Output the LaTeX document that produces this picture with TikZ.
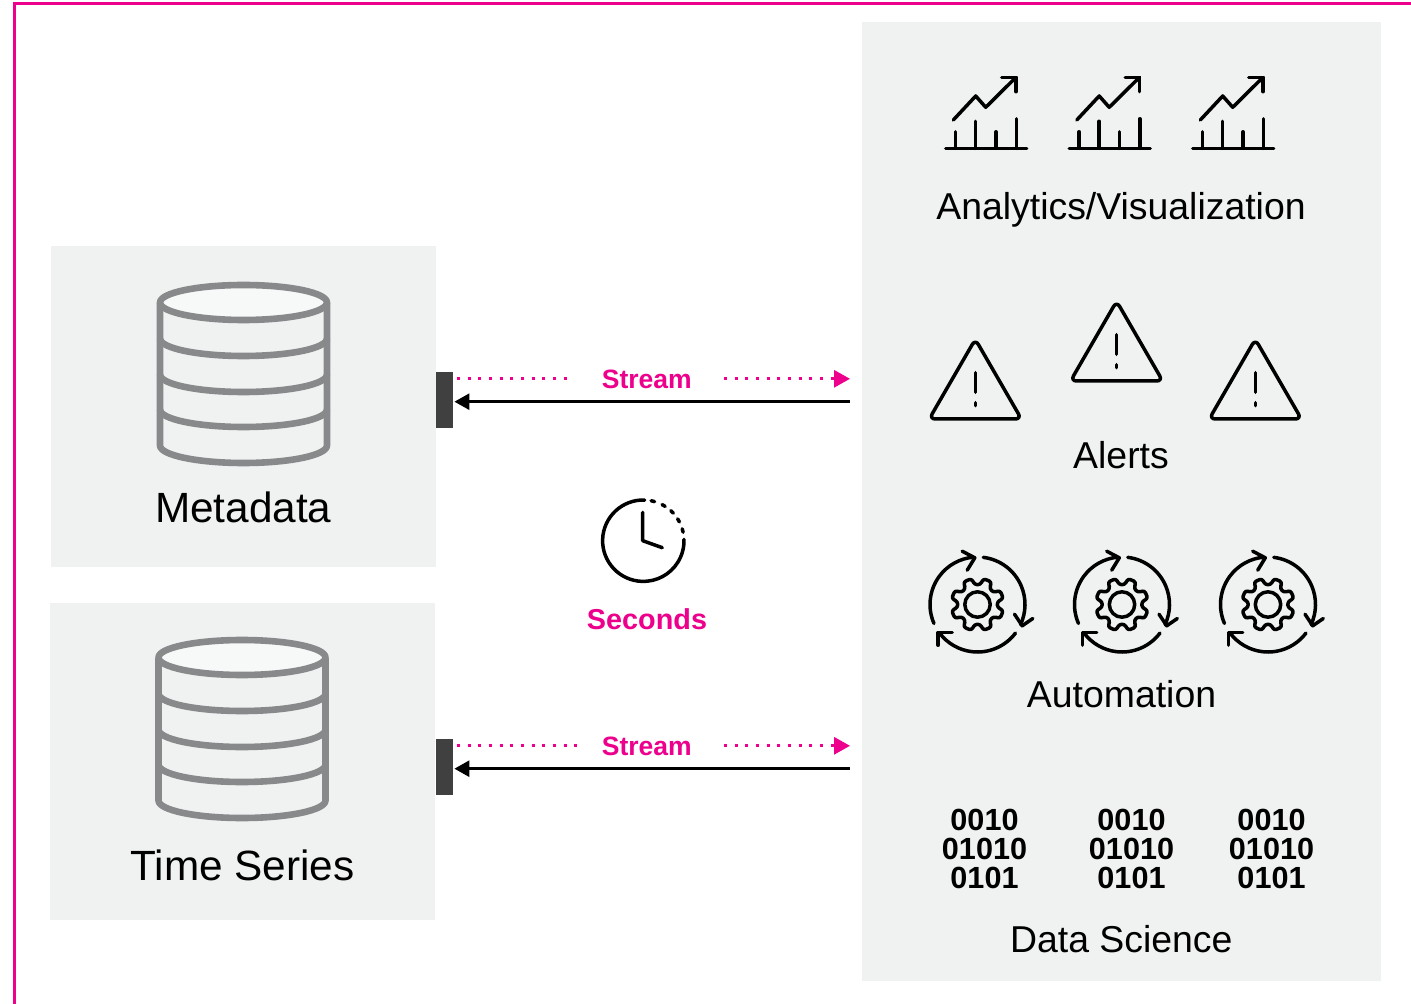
\documentclass[tikz,border=0pt]{standalone}
\usepackage{fontspec}
\setmainfont{Liberation Sans}
\usetikzlibrary{arrows.meta}
\definecolor{hotpink}{HTML}{EC008C}
\definecolor{panelgray}{HTML}{F0F2F1}
\definecolor{dbgray}{HTML}{87898B}
\definecolor{bardark}{HTML}{404040}
\definecolor{dbtop}{HTML}{F7F8F8}
\tikzset{
	panel/.style={fill=panelgray},
	icon/.style={line width=1.75pt, line cap=round, line join=round, color=black},
	dbline/.style={line width=3.3pt, color=dbgray, line join=round},
	streamdots/.style={line width=1.5pt, color=hotpink, dash pattern=on 1.5pt off 3.83pt},
	pushtip/.style={-{Triangle[length=8pt,width=8.5pt]}, line width=1.5pt, color=hotpink, dash pattern=on 1.5pt off 3.83pt},
	pullline/.style={-{Triangle[length=7.5pt,width=8pt]}, line width=1.4pt, color=black, shorten >=0.5pt},
	sinkbar/.style={fill=bardark, minimum width=8.5pt, minimum height=28pt, inner sep=0pt},
	boxlabel/.style={anchor=base, font=\fontsize{21.15}{21}\selectfont, text=black},
	toollabel/.style={anchor=base, font=\fontsize{18.7}{18.7}\selectfont, text=black},
	pinklabel/.style={anchor=base, font=\fontsize{13.25}{13.2}\selectfont\bfseries, text=hotpink},
	bitlabel/.style={align=center, font=\fontsize{15.3}{14.5}\selectfont\bfseries, text=black, inner sep=0pt}
}
\def\dbicon(#1,#2){
	\begin{scope}[shift={(#1,#2)}]
		\draw[dbline, fill=dbtop] (0,0) ellipse (83.5 and 17.5);
		\draw[dbline] (-83.5,0) -- (-83.5,143) arc (180:0:83.5 and 17.5) -- (83.5,0);
		\foreach \bandy in {36,72,107} {
			\draw[dbline] (-83.5,\bandy) arc (180:0:83.5 and 17.5);
		}
	\end{scope}
}
\def\charticon(#1,#2){
	\begin{scope}[shift={(#1,#2)}]
		\draw[icon] (0,0) -- (81,0);
		\draw[icon] (10,0) -- (10,-16.5);
		\draw[icon] (30,0) -- (30,-27);
		\draw[icon] (50.3,0) -- (50.3,-16.5);
		\draw[icon] (70.6,0) -- (70.6,-29.5);
		\draw[icon] (7.6,-28.3) -- (30,-52.3) -- (40,-41) -- (70.3,-71);
		\draw[icon] (56,-71) -- (70.3,-71) -- (70.3,-56.6);
	\end{scope}
}
\def\alerticon(#1,#2){
	\begin{scope}[shift={(#1,#2)}]
		\draw[icon, rounded corners=3pt] (0,2.5) -- (46.1,82.3) -- (-46.1,82.3) -- cycle;
		\draw[icon] (0,36) -- (0,55.6);
		\draw[icon] (0,66) -- (0,69);
	\end{scope}
}
\def\gearicon(#1,#2){
	\begin{scope}[shift={(#1,#2)}]
		\draw[icon] (-203.5:47.5) arc (-203.5:-95:47.5);
		\draw[icon] (-83:47.5) arc (-83:25:47.5);
		\draw[icon] (37:47.5) arc (37:143:47.5);
		\draw[icon] (-15.3,-53.3) -- (-2.7,-46.7) -- (-10.3,-34.3);
		\draw[icon] (37,9.7) -- (44.7,21.3) -- (55.3,14);
		\draw[icon] (-39.3,40.7) -- (-39.3,28) -- (-25.3,28);
		\draw[icon] (0,0) circle (12.7);
		\draw[icon, rounded corners=1.2pt] (7.5:20) \foreach \gtooth in {22.5,67.5,...,337.5} { -- (\gtooth-15:20) -- (\gtooth-9:26.5) -- (\gtooth+9:26.5) -- (\gtooth+15:20) } -- cycle;
	\end{scope}
}
\begin{document}
\begin{tikzpicture}[x=0.5pt, y=-0.5pt]
	%%%%% FRAME %%%%%
	\useasboundingbox (0,0) rectangle (1411,1004);
	\draw[line width=1.5pt, color=hotpink] (1411,3.5) -- (14.5,3.5) -- (14.5,1004);
	
	\fill[panel] (51,246) rectangle (436,567);
	\fill[panel] (50,603) rectangle (435,920);
	\fill[panel] (862,22) rectangle (1381,981);
	
	%%%%% STORES %%%%%
	\dbicon(243.5,302.5);
	\node[boxlabel] (metadata) at (243.3,523) {Metadata};
	\dbicon(242,657.5);
	\node[boxlabel] (timeseries) at (242.5,880.5) {Time Series};
	
	%%%%% STREAMS %%%%%
	\node[sinkbar] (bar1) at (444.5,400) {};
	\node[sinkbar] (bar2) at (444.5,767) {};
	
	\node[pinklabel] (stream1) at (646.8,388.5) {Stream};
	\node[pinklabel] (stream2) at (646.8,755.5) {Stream};
	
	\coordinate (dotstart1) at (457,378.8);
	\coordinate (dotend1) at (569,378.8);
	\coordinate (pushstart1) at (724,378.8);
	\coordinate (pushtip1) at (850,378.8);
	\coordinate (pullstart1) at (850,401.7);
	
	\coordinate (dotstart2) at (457,745.8);
	\coordinate (dotend2) at (580,745.8);
	\coordinate (pushstart2) at (724,745.8);
	\coordinate (pushtip2) at (850,745.8);
	\coordinate (pullstart2) at (850,768.7);
	
	\draw[streamdots] (dotstart1) -- (dotend1);
	\draw[pushtip] (pushstart1) -- (pushtip1);
	\draw[pullline] (pullstart1) -- (bar1.east |- pullstart1);
	
	\draw[streamdots] (dotstart2) -- (dotend2);
	\draw[pushtip] (pushstart2) -- (pushtip2);
	\draw[pullline] (pullstart2) -- (bar2.east |- pullstart2);
	
	%%%%% CLOCK %%%%%
	\draw[icon] (643.3,540.7) ++(-88:40.7) arc (-88:-362:40.7);
	\foreach \tickang in {76.4,60,45,30,14.5} {
		\draw[icon] (643.3,540.7) ++(-\tickang-2.5:40.7) arc (-\tickang-2.5:-\tickang+2.5:40.7);
	}
	\draw[icon] (642.7,512.3) -- (642.7,540.7) -- (662.3,547.7);
	\node[pinklabel, font=\fontsize{14.4}{14.4}\selectfont\bfseries] (seconds) at (647,629) {Seconds};
	
	%%%%% TOOLS %%%%%
	\charticon(945.7,148.3);
	\charticon(1069.2,148.3);
	\charticon(1192.7,148.3);
	\node[toollabel] (analytics) at (1121,220) {Analytics/Visualization};
	
	\alerticon(975.3,336.7);
	\alerticon(1116.6,298.7);
	\alerticon(1255.3,336.7);
	\node[toollabel] (alerts) at (1121,468.5) {Alerts};
	
	\gearicon(977.5,604.5);
	\gearicon(1122,604.5);
	\gearicon(1268,604.5);
	\node[toollabel] (automation) at (1121.5,707) {Automation};
	
	\node[bitlabel] (bits1) at (984.5,849) {0010\\01010\\0101};
	\node[bitlabel] (bits2) at (1131.5,849) {0010\\01010\\0101};
	\node[bitlabel] (bits3) at (1271.5,849) {0010\\01010\\0101};
	\node[toollabel] (datascience) at (1121.3,952) {Data Science};
\end{tikzpicture}
\end{document}
